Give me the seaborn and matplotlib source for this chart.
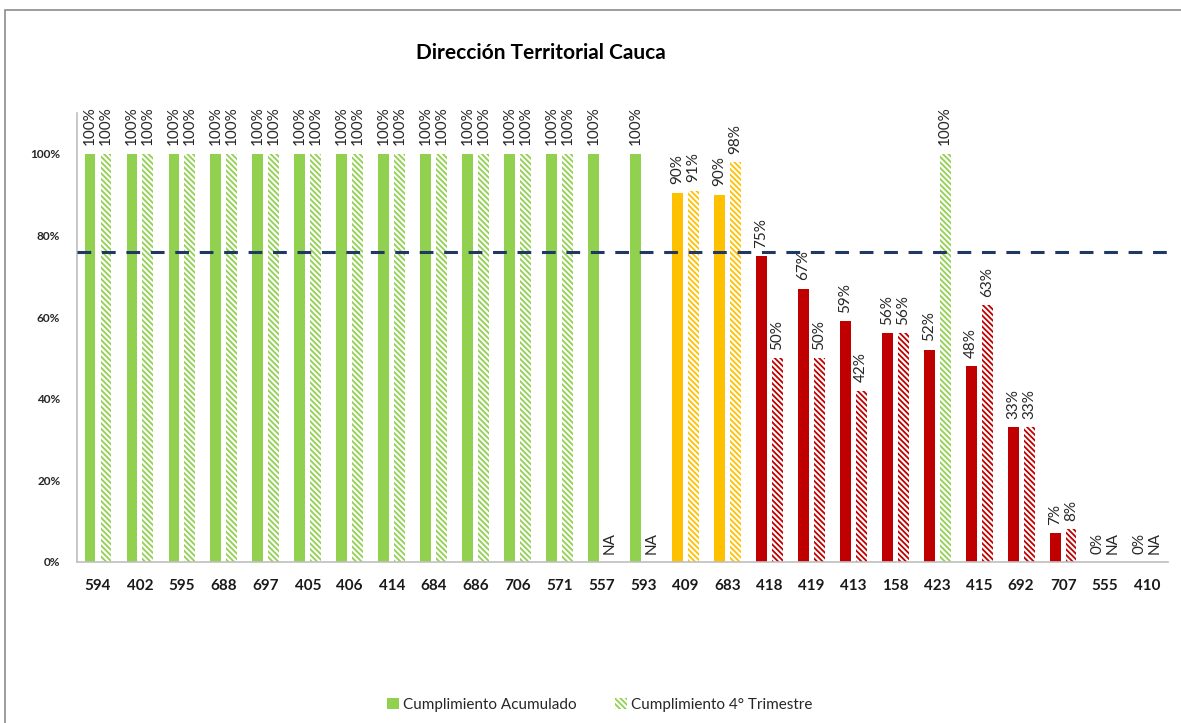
import numpy as np
import pandas as pd
import matplotlib
matplotlib.use("Agg")
import matplotlib.pyplot as plt
from matplotlib.patches import Patch, Rectangle
import seaborn as sns

# ---- data ----
categories = ["594", "402", "595", "688", "697", "405", "406", "414", "684", "686",
              "706", "571", "557", "593", "409", "683", "418", "419", "413", "158",
              "423", "415", "692", "707", "555", "410"]
acumulado = [1.00, 1.00, 1.00, 1.00, 1.00, 1.00, 1.00, 1.00, 1.00, 1.00,
             1.00, 1.00, 1.00, 1.00, 0.905, 0.90, 0.75, 0.67, 0.59, 0.56,
             0.52, 0.48, 0.33, 0.07, 0.00, 0.00]
trimestre = [1.00, 1.00, 1.00, 1.00, 1.00, 1.00, 1.00, 1.00, 1.00, 1.00,
             1.00, 1.00, np.nan, np.nan, 0.91, 0.98, 0.50, 0.50, 0.42, 0.56,
             1.00, 0.63, 0.33, 0.08, np.nan, np.nan]
series_names = ["Cumplimiento Acumulado", "Cumplimiento 4° Trimestre"]
meta = 0.76
title = "Dirección Territorial Cauca"

GREEN, YELLOW, RED = "#92D050", "#FFC000", "#C00000"


def status_color(v):
    if v >= 0.995:
        return GREEN
    if v >= 0.80:
        return YELLOW
    return RED


df = pd.DataFrame({
    "cat": categories * 2,
    "serie": [series_names[0]] * len(categories) + [series_names[1]] * len(categories),
    "valor": acumulado + trimestre,
})

sns.set_theme(style="white")
plt.rcParams["font.family"] = ["Lato", "DejaVu Sans"]
plt.rcParams["hatch.linewidth"] = 1.3

fig = plt.figure(figsize=(11.81, 7.23), dpi=100)
ax = fig.add_axes([77 / 1181, 1 - 562 / 723, (1168 - 77) / 1181, (562 - 113) / 723])

sns.barplot(data=df, x="cat", y="valor", hue="serie", order=categories,
            hue_order=series_names, width=0.76, gap=0.32, ax=ax,
            legend=False, errorbar=None, saturation=1)

HATCH = "\\\\\\\\\\\\"
series_vals = [acumulado, trimestre]
offsets = [-0.19, 0.19]
for si, cont in enumerate(ax.containers):
    vals = series_vals[si]
    for bar in cont.patches:
        xc = bar.get_x() + bar.get_width() / 2
        ci = int(round(xc))
        v = vals[ci]
        c = status_color(v)
        if si == 0:
            bar.set_facecolor(c)
            bar.set_edgecolor(c)
            bar.set_linewidth(0)
        else:
            bar.set_facecolor("white")
            bar.set_edgecolor(c)
            bar.set_hatch(HATCH)
            bar.set_linewidth(0)

# data labels
for si, vals in enumerate(series_vals):
    for ci, v in enumerate(vals):
        x = ci + offsets[si]
        if v is None or np.isnan(v):
            txt, h = "NA", 0
        else:
            txt, h = f"{round(v * 100):.0f}%", v
        ax.annotate(txt, xy=(x, h), xytext=(0, 6), textcoords="offset points",
                    rotation=90, ha="center", va="bottom", fontsize=11,
                    color="#262626")

ax.axhline(meta, color="#1F3864", lw=2.2, ls=(0, (4.5, 3.5)), zorder=5)

ax.set_ylim(0, 1.1)
ax.set_xlim(-0.5, len(categories) - 0.5)
ax.set_yticks([0, 0.2, 0.4, 0.6, 0.8, 1.0])
ax.set_yticklabels(["0%", "20%", "40%", "60%", "80%", "100%"],
                   fontsize=8.5, fontweight="bold", color="#262626")
ax.tick_params(axis="y", length=0, pad=12)
ax.tick_params(axis="x", length=0, pad=12)
for lab in ax.get_xticklabels():
    lab.set_fontsize(11)
    lab.set_fontweight("bold")
    lab.set_color("#1a1a1a")
ax.set_xlabel("")
ax.set_ylabel("")
for s in ["top", "right"]:
    ax.spines[s].set_visible(False)
for s in ["left", "bottom"]:
    ax.spines[s].set_color("#BFBFBF")
    ax.spines[s].set_linewidth(1.2)

fig.text(541 / 1181, 1 - 53 / 723, title, ha="center", va="center",
         fontsize=15, fontweight="bold", color="black")

handles = [Patch(facecolor=GREEN, edgecolor=GREEN, linewidth=0),
           Patch(facecolor="white", edgecolor=GREEN, hatch=HATCH, linewidth=0)]
fig.legend(handles, series_names, loc="center", bbox_to_anchor=(600 / 1181, 1 - 705 / 723),
           ncol=2, frameon=False, fontsize=11, handlelength=0.75, handleheight=0.75,
           handletextpad=0.3, columnspacing=2.5)

fig.patches.append(Rectangle((5 / 1181, -0.1), 1.2, 1 - 10 / 723 + 0.1,
                             transform=fig.transFigure, fill=False,
                             edgecolor="#8C8C8C", linewidth=1.2))

fig.savefig("out.png", dpi=100, facecolor="white")
